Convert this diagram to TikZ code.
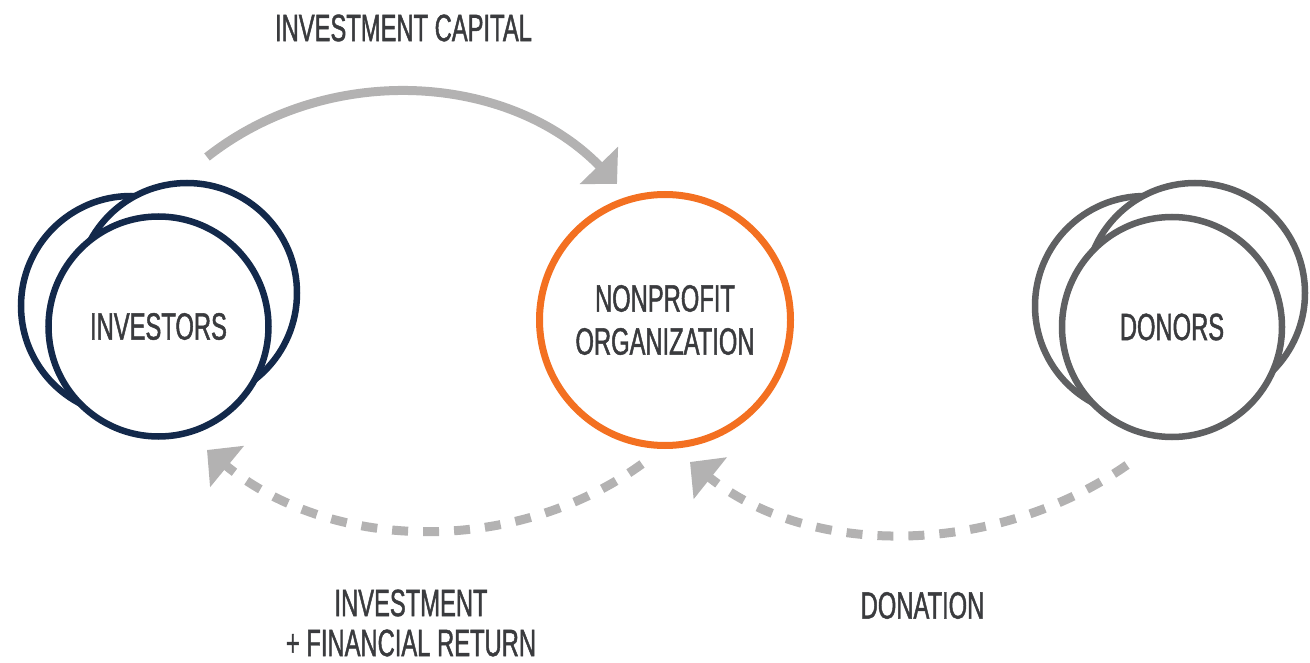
\documentclass[tikz,border=0pt]{standalone}
\usepackage{fontspec}
\setmainfont{Liberation Sans}[FakeStretch=0.625, FakeBold=1.2]
\usepackage{tikz}
\usetikzlibrary{arrows.meta}

\definecolor{navy}{HTML}{13294B}
\definecolor{orng}{HTML}{F37021}
\definecolor{slate}{HTML}{5F6062}
\definecolor{flowgray}{HTML}{B3B2B2}
\definecolor{ink}{HTML}{3A3B3E}

\tikzset{
   ring/.style={circle, draw, fill=white, inner sep=0pt, outer sep=0pt,
      line width=6.5pt, minimum size=220pt, text=ink, align=center,
      font=\fontsize{38}{43}\selectfont},
   flowtext/.style={text=ink, inner sep=0pt, align=center,
      font=\fontsize{38}{40}\selectfont},
   solidflow/.style={draw=flowgray, line width=9pt,
      -{Triangle[length=26pt,width=52pt]}},
   dashflow/.style={solidflow, dash pattern=on 16pt off 15pt}
}

\begin{document}
\begin{tikzpicture}[x=1pt, y=-1pt]
   \useasboundingbox (0,0) rectangle (1310,663);

   % investors
   \node[ring, draw=navy] (invL) at (131,306) {};
   \node[ring, draw=navy] (invB) at (187,293) {};
   \node[ring, draw=navy] (inv) at (158.5,326.5) {INVESTORS};

   % nonprofit
   \node[ring, draw=orng, line width=7pt, minimum size=251pt] (np) at (665,320)
      {NONPROFIT\\ORGANIZATION};

   % donors
   \node[ring, draw=slate] (donL) at (1145,306) {};
   \node[ring, draw=slate] (donB) at (1195,293) {};
   \node[ring, draw=slate] (don) at (1172,327) {DONORS};

   % free ends of the flows
   \coordinate (capout) at ([shift={(20,-136)}]invB.center);
   \coordinate (capin)  at ([shift={(-48,-136)}]np.center);
   \coordinate (retout) at ([shift={(-23,144)}]np.center);
   \coordinate (retin)  at ([shift={(48.5,123.5)}]inv.center);
   \coordinate (donout) at ([shift={(-45,138)}]don.center);
   \coordinate (donin)  at ([shift={(25,142)}]np.center);

   \draw[solidflow] (capout) .. controls +(122,-96) and +(-108,-111) .. (capin);
   \draw[dashflow] (retout) .. controls +(-129,93) and +(123,101) .. (retin);
   \draw[dashflow] (donout) .. controls +(-129,90) and +(123,98) .. (donin);

   \node[flowtext] (captxt) at (403.5,28) {INVESTMENT CAPITAL};
   \node[flowtext] (rettxt) at (411,623) {INVESTMENT\\+ FINANCIAL RETURN};
   \node[flowtext] (dontxt) at (922.5,605.5) {DONATION};
\end{tikzpicture}
\end{document}
